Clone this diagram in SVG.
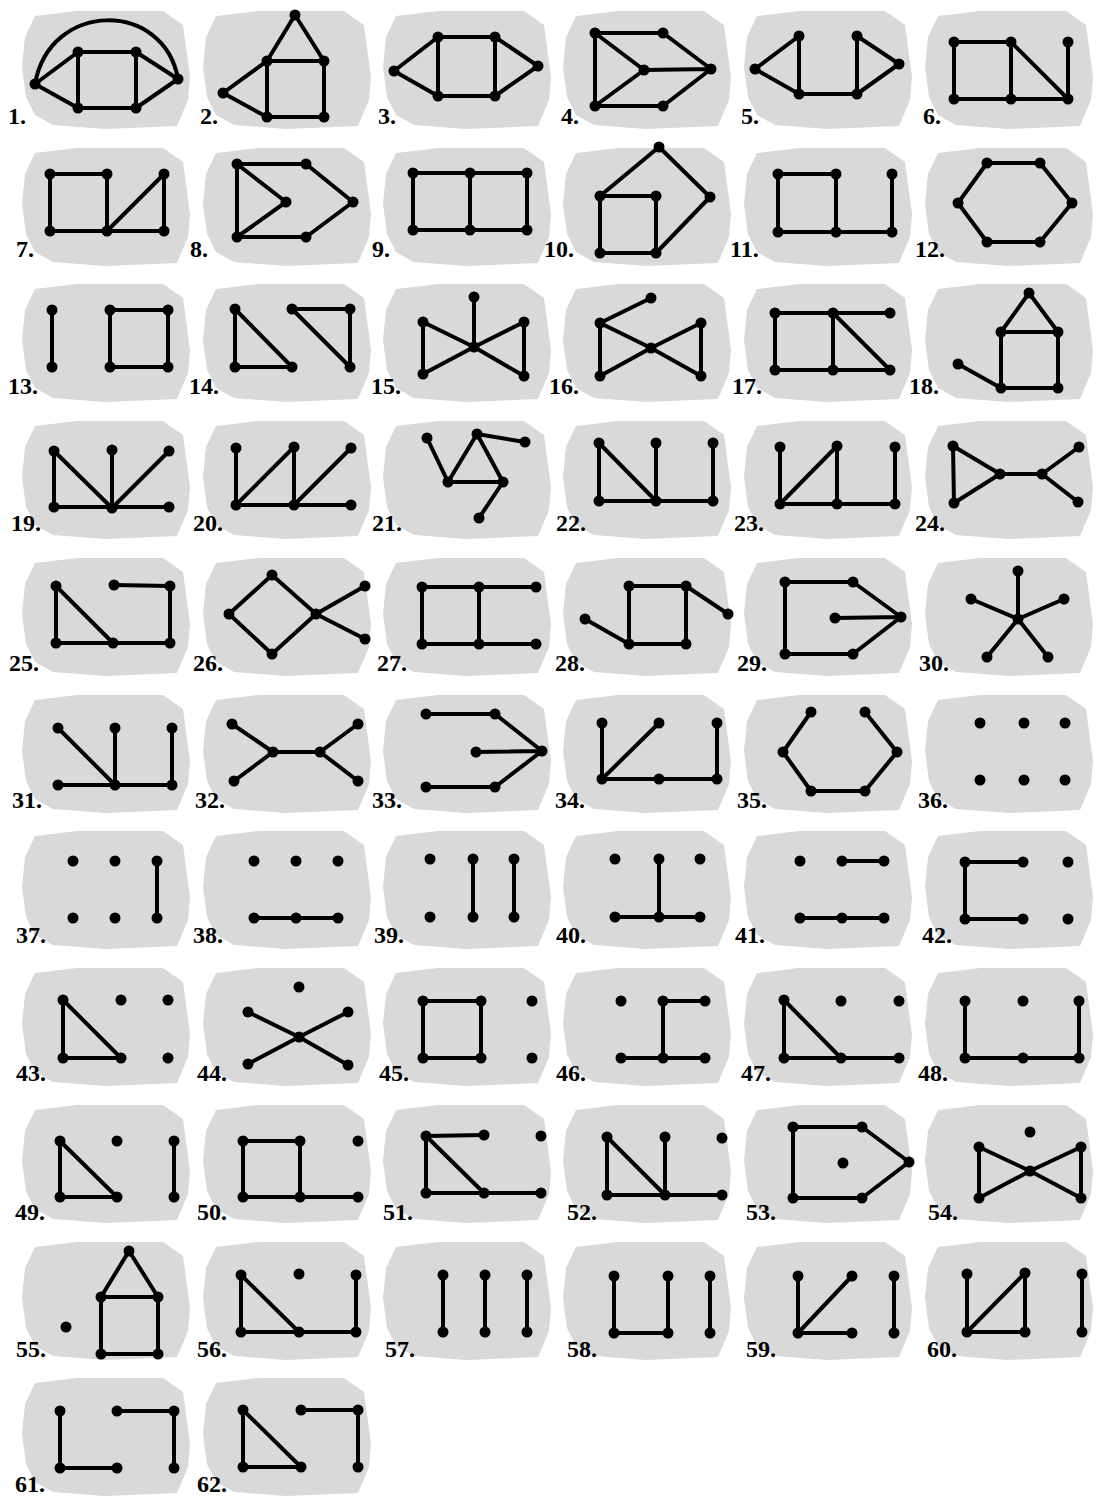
<svg xmlns="http://www.w3.org/2000/svg" xmlns:xlink="http://www.w3.org/1999/xlink" width="1102" height="1499" viewBox="0 0 1102 1499">
<style>
.blob{fill:#d9d9d9}
.e{stroke:#000;stroke-width:4;fill:none;stroke-linecap:round;stroke-linejoin:round}
.lb{font-family:"Liberation Serif",serif;font-weight:bold;font-size:24px;fill:#000}
</style>
<defs>
<path id="blob" d="M22 67 L25 37 L35 16 L77 11 L163 11 L183 25 L190 77 L188 100 L177 126 L105 129 L53 125 L35 115 L26 97 Z"/>
<circle id="n" r="5.5" fill="#000"/>
</defs>
<rect width="1102" height="1499" fill="#fff"/>

<g id="fig1"><use href="#blob" class="blob" x="0" y="0"/><text class="lb" x="8" y="124">1.</text>
<g class="connectors"><path class="e" d="M35 84L78 52M35 84L78 108M78 52L136 52M78 52L78 108M136 52L136 108M78 108L136 108M136 52L178 79M136 108L178 79M35 84C50 0 164 0 178 79"/></g>
<use href="#n" x="35" y="84"/><use href="#n" x="78" y="52"/><use href="#n" x="136" y="52"/><use href="#n" x="78" y="108"/><use href="#n" x="136" y="108"/><use href="#n" x="178" y="79"/></g>

<g id="fig2"><use href="#blob" class="blob" x="181" y="0"/><text class="lb" x="200" y="124">2.</text>
<g class="connectors"><path class="e" d="M295 15L267 61M295 15L324 61M267 61L324 61M267 61L267 117M324 61L324 117M267 117L324 117M223 93L267 61M223 93L267 117"/></g>
<use href="#n" x="295" y="15"/><use href="#n" x="267" y="61"/><use href="#n" x="324" y="61"/><use href="#n" x="267" y="117"/><use href="#n" x="324" y="117"/><use href="#n" x="223" y="93"/></g>

<g id="fig3"><use href="#blob" class="blob" x="361" y="0"/><text class="lb" x="378" y="124">3.</text>
<g class="connectors"><path class="e" d="M394 71L438 37M394 71L438 96M438 37L495 37M438 37L438 96M495 37L495 96M438 96L495 96M495 37L538 66M495 96L538 66"/></g>
<use href="#n" x="394" y="71"/><use href="#n" x="438" y="37"/><use href="#n" x="495" y="37"/><use href="#n" x="438" y="96"/><use href="#n" x="495" y="96"/><use href="#n" x="538" y="66"/></g>

<g id="fig4"><use href="#blob" class="blob" x="541" y="0"/><text class="lb" x="561" y="124">4.</text>
<g class="connectors"><path class="e" d="M595 33L663 33M595 33L595 106M595 33L644 70M595 106L644 70M644 70L711 69M663 33L711 69M663 106L711 69M595 106L663 106"/></g>
<use href="#n" x="595" y="33"/><use href="#n" x="663" y="33"/><use href="#n" x="644" y="70"/><use href="#n" x="711" y="69"/><use href="#n" x="595" y="106"/><use href="#n" x="663" y="106"/></g>

<g id="fig5"><use href="#blob" class="blob" x="722" y="0"/><text class="lb" x="741" y="124">5.</text>
<g class="connectors"><path class="e" d="M755 69L799 36M755 69L799 94M799 36L799 94M799 94L857 94M857 36L857 94M857 36L899 64M857 94L899 64"/></g>
<use href="#n" x="755" y="69"/><use href="#n" x="799" y="36"/><use href="#n" x="799" y="94"/><use href="#n" x="857" y="36"/><use href="#n" x="857" y="94"/><use href="#n" x="899" y="64"/></g>

<g id="fig6"><use href="#blob" class="blob" x="903" y="0"/><text class="lb" x="923" y="124">6.</text>
<g class="connectors"><path class="e" d="M954 42L1011 42M954 42L954 99M1011 42L1011 99M954 99L1068 99M1011 42L1068 99M1068 42L1068 99"/></g>
<use href="#n" x="954" y="42"/><use href="#n" x="1011" y="42"/><use href="#n" x="1068" y="42"/><use href="#n" x="954" y="99"/><use href="#n" x="1011" y="99"/><use href="#n" x="1068" y="99"/></g>

<g id="fig7"><use href="#blob" class="blob" x="0" y="137"/><text class="lb" x="16" y="257">7.</text>
<g class="connectors"><path class="e" d="M50 174L107 174M50 174L50 231M107 174L107 231M50 231L164 231M107 231L164 174M164 174L164 231"/></g>
<use href="#n" x="50" y="174"/><use href="#n" x="107" y="174"/><use href="#n" x="50" y="231"/><use href="#n" x="107" y="231"/><use href="#n" x="164" y="231"/><use href="#n" x="164" y="174"/></g>

<g id="fig8"><use href="#blob" class="blob" x="181" y="137"/><text class="lb" x="190" y="257">8.</text>
<g class="connectors"><path class="e" d="M237 164L306 164M237 164L237 237M237 164L286 202M286 202L237 237M306 164L353 202M353 202L306 237M237 237L306 237"/></g>
<use href="#n" x="237" y="164"/><use href="#n" x="306" y="164"/><use href="#n" x="286" y="202"/><use href="#n" x="353" y="202"/><use href="#n" x="237" y="237"/><use href="#n" x="306" y="237"/></g>

<g id="fig9"><use href="#blob" class="blob" x="361" y="137"/><text class="lb" x="372" y="257">9.</text>
<g class="connectors"><path class="e" d="M413 173L527 173M413 230L527 230M413 173L413 230M470 173L470 230M527 173L527 230"/></g>
<use href="#n" x="413" y="173"/><use href="#n" x="470" y="173"/><use href="#n" x="527" y="173"/><use href="#n" x="413" y="230"/><use href="#n" x="470" y="230"/><use href="#n" x="527" y="230"/></g>

<g id="fig10"><use href="#blob" class="blob" x="541" y="137"/><text class="lb" x="544" y="257">10.</text>
<g class="connectors"><path class="e" d="M659 147L600 196M659 147L710 197M600 196L656 196M600 196L600 253M656 196L656 253M600 253L656 253M710 197L656 253"/></g>
<use href="#n" x="659" y="147"/><use href="#n" x="710" y="197"/><use href="#n" x="600" y="196"/><use href="#n" x="656" y="196"/><use href="#n" x="600" y="253"/><use href="#n" x="656" y="253"/></g>

<g id="fig11"><use href="#blob" class="blob" x="722" y="137"/><text class="lb" x="730" y="257">11.</text>
<g class="connectors"><path class="e" d="M778 174L836 174M778 174L778 232M836 174L836 232M778 232L892 232M892 174L892 232"/></g>
<use href="#n" x="778" y="174"/><use href="#n" x="836" y="174"/><use href="#n" x="892" y="174"/><use href="#n" x="778" y="232"/><use href="#n" x="836" y="232"/><use href="#n" x="892" y="232"/></g>

<g id="fig12"><use href="#blob" class="blob" x="903" y="137"/><text class="lb" x="915" y="257">12.</text>
<g class="connectors"><path class="e" d="M987 163L1040 163L1072 203L1040 242L987 242L958 203Z"/></g>
<use href="#n" x="987" y="163"/><use href="#n" x="1040" y="163"/><use href="#n" x="1072" y="203"/><use href="#n" x="1040" y="242"/><use href="#n" x="987" y="242"/><use href="#n" x="958" y="203"/></g>

<g id="fig13"><use href="#blob" class="blob" x="0" y="273"/><text class="lb" x="8" y="394">13.</text>
<g class="connectors"><path class="e" d="M52 310L52 367M110 310L168 310L168 367L110 367Z"/></g>
<use href="#n" x="52" y="310"/><use href="#n" x="52" y="367"/><use href="#n" x="110" y="310"/><use href="#n" x="168" y="310"/><use href="#n" x="110" y="367"/><use href="#n" x="168" y="367"/></g>

<g id="fig14"><use href="#blob" class="blob" x="181" y="273"/><text class="lb" x="189" y="394">14.</text>
<g class="connectors"><path class="e" d="M235 309L235 367M235 309L292 367M235 367L292 367M292 309L350 309M292 309L350 367M350 309L350 367"/></g>
<use href="#n" x="235" y="309"/><use href="#n" x="235" y="367"/><use href="#n" x="292" y="367"/><use href="#n" x="292" y="309"/><use href="#n" x="350" y="309"/><use href="#n" x="350" y="367"/></g>

<g id="fig15"><use href="#blob" class="blob" x="361" y="273"/><text class="lb" x="371" y="394">15.</text>
<g class="connectors"><path class="e" d="M474 297L474 347M423 322L474 347M524 322L474 347M423 374L474 347M524 376L474 347M423 322L423 374M524 322L524 376"/></g>
<use href="#n" x="474" y="297"/><use href="#n" x="423" y="322"/><use href="#n" x="524" y="322"/><use href="#n" x="474" y="347"/><use href="#n" x="423" y="374"/><use href="#n" x="524" y="376"/></g>

<g id="fig16"><use href="#blob" class="blob" x="541" y="273"/><text class="lb" x="549" y="394">16.</text>
<g class="connectors"><path class="e" d="M651 298L600 323M600 323L651 348M651 348L701 376M600 376L651 348M651 348L701 323M600 323L600 376M701 323L701 376"/></g>
<use href="#n" x="651" y="298"/><use href="#n" x="600" y="323"/><use href="#n" x="701" y="323"/><use href="#n" x="651" y="348"/><use href="#n" x="600" y="376"/><use href="#n" x="701" y="376"/></g>

<g id="fig17"><use href="#blob" class="blob" x="722" y="273"/><text class="lb" x="732" y="394">17.</text>
<g class="connectors"><path class="e" d="M775 313L890 313M775 313L775 370M833 313L833 370M775 370L890 370M833 313L890 370"/></g>
<use href="#n" x="775" y="313"/><use href="#n" x="833" y="313"/><use href="#n" x="890" y="313"/><use href="#n" x="775" y="370"/><use href="#n" x="833" y="370"/><use href="#n" x="890" y="370"/></g>

<g id="fig18"><use href="#blob" class="blob" x="903" y="273"/><text class="lb" x="909" y="394">18.</text>
<g class="connectors"><path class="e" d="M1029 293L1001 332M1029 293L1058 332M1001 332L1058 332M1001 332L1001 388M1058 332L1058 388M1001 388L1058 388M958 364L1001 388"/></g>
<use href="#n" x="1029" y="293"/><use href="#n" x="1001" y="332"/><use href="#n" x="1058" y="332"/><use href="#n" x="1001" y="388"/><use href="#n" x="1058" y="388"/><use href="#n" x="958" y="364"/></g>

<g id="fig19"><use href="#blob" class="blob" x="0" y="410"/><text class="lb" x="11" y="531">19.</text>
<g class="connectors"><path class="e" d="M54 451L54 507M54 451L112 508M112 450L112 508M169 451L112 508M54 507L169 507"/></g>
<use href="#n" x="54" y="451"/><use href="#n" x="112" y="450"/><use href="#n" x="169" y="451"/><use href="#n" x="54" y="507"/><use href="#n" x="112" y="508"/><use href="#n" x="169" y="507"/></g>

<g id="fig20"><use href="#blob" class="blob" x="181" y="410"/><text class="lb" x="193" y="531">20.</text>
<g class="connectors"><path class="e" d="M236 448L236 505M236 505L294 447M294 447L294 505M236 505L351 505M294 505L351 448"/></g>
<use href="#n" x="236" y="448"/><use href="#n" x="294" y="447"/><use href="#n" x="351" y="448"/><use href="#n" x="236" y="505"/><use href="#n" x="294" y="505"/><use href="#n" x="351" y="505"/></g>

<g id="fig21"><use href="#blob" class="blob" x="361" y="410"/><text class="lb" x="372" y="531">21.</text>
<g class="connectors"><path class="e" d="M427 438L448 482M477 434L525 442M477 434L448 482M477 434L503 482M448 482L503 482M503 482L479 518"/></g>
<use href="#n" x="427" y="438"/><use href="#n" x="477" y="434"/><use href="#n" x="525" y="442"/><use href="#n" x="448" y="482"/><use href="#n" x="503" y="482"/><use href="#n" x="479" y="518"/></g>

<g id="fig22"><use href="#blob" class="blob" x="541" y="410"/><text class="lb" x="556" y="531">22.</text>
<g class="connectors"><path class="e" d="M599 443L599 501M599 443L656 501M656 443L656 501M599 501L713 501M713 443L713 501"/></g>
<use href="#n" x="599" y="443"/><use href="#n" x="656" y="443"/><use href="#n" x="713" y="443"/><use href="#n" x="599" y="501"/><use href="#n" x="656" y="501"/><use href="#n" x="713" y="501"/></g>

<g id="fig23"><use href="#blob" class="blob" x="722" y="410"/><text class="lb" x="734" y="531">23.</text>
<g class="connectors"><path class="e" d="M780 447L780 504M780 504L837 446M837 446L837 504M780 504L895 504M895 447L895 504"/></g>
<use href="#n" x="780" y="447"/><use href="#n" x="837" y="446"/><use href="#n" x="895" y="447"/><use href="#n" x="780" y="504"/><use href="#n" x="837" y="504"/><use href="#n" x="895" y="504"/></g>

<g id="fig24"><use href="#blob" class="blob" x="903" y="410"/><text class="lb" x="915" y="531">24.</text>
<g class="connectors"><path class="e" d="M953 446L954 503M953 446L1000 474M954 503L1000 474M1000 474L1042 474M1042 474L1079 447M1042 474L1078 502"/></g>
<use href="#n" x="953" y="446"/><use href="#n" x="954" y="503"/><use href="#n" x="1000" y="474"/><use href="#n" x="1042" y="474"/><use href="#n" x="1079" y="447"/><use href="#n" x="1078" y="502"/></g>

<g id="fig25"><use href="#blob" class="blob" x="0" y="547"/><text class="lb" x="9" y="671">25.</text>
<g class="connectors"><path class="e" d="M56 586L56 643M56 586L113 643M56 643L170 643M170 586L170 643M114 585L170 586"/></g>
<use href="#n" x="56" y="586"/><use href="#n" x="56" y="643"/><use href="#n" x="113" y="643"/><use href="#n" x="170" y="643"/><use href="#n" x="170" y="586"/><use href="#n" x="114" y="585"/></g>

<g id="fig26"><use href="#blob" class="blob" x="181" y="547"/><text class="lb" x="193" y="671">26.</text>
<g class="connectors"><path class="e" d="M272 575L229 614L272 654L316 614L272 575M316 614L365 586M316 614L365 639"/></g>
<use href="#n" x="272" y="575"/><use href="#n" x="229" y="614"/><use href="#n" x="272" y="654"/><use href="#n" x="316" y="614"/><use href="#n" x="365" y="586"/><use href="#n" x="365" y="639"/></g>

<g id="fig27"><use href="#blob" class="blob" x="361" y="547"/><text class="lb" x="377" y="671">27.</text>
<g class="connectors"><path class="e" d="M422 587L536 587M422 587L422 644M479 587L479 644M422 644L536 644"/></g>
<use href="#n" x="422" y="587"/><use href="#n" x="479" y="587"/><use href="#n" x="536" y="587"/><use href="#n" x="422" y="644"/><use href="#n" x="479" y="644"/><use href="#n" x="536" y="644"/></g>

<g id="fig28"><use href="#blob" class="blob" x="541" y="547"/><text class="lb" x="555" y="671">28.</text>
<g class="connectors"><path class="e" d="M585 619L629 644M629 586L686 586M629 586L629 644M686 586L686 644M629 644L686 644M686 586L728 614"/></g>
<use href="#n" x="585" y="619"/><use href="#n" x="629" y="586"/><use href="#n" x="686" y="586"/><use href="#n" x="629" y="644"/><use href="#n" x="686" y="644"/><use href="#n" x="728" y="614"/></g>

<g id="fig29"><use href="#blob" class="blob" x="722" y="547"/><text class="lb" x="737" y="671">29.</text>
<g class="connectors"><path class="e" d="M785 582L853 582M785 582L785 654M853 582L901 617M835 618L901 617M901 617L853 654M785 654L853 654"/></g>
<use href="#n" x="785" y="582"/><use href="#n" x="853" y="582"/><use href="#n" x="835" y="618"/><use href="#n" x="901" y="617"/><use href="#n" x="785" y="654"/><use href="#n" x="853" y="654"/></g>

<g id="fig30"><use href="#blob" class="blob" x="903" y="547"/><text class="lb" x="919" y="671">30.</text>
<g class="connectors"><path class="e" d="M1018 571L1018 619M971 599L1018 619M1064 599L1018 619M987 657L1018 619M1048 657L1018 619"/></g>
<use href="#n" x="1018" y="571"/><use href="#n" x="971" y="599"/><use href="#n" x="1064" y="599"/><use href="#n" x="1018" y="619"/><use href="#n" x="987" y="657"/><use href="#n" x="1048" y="657"/></g>

<g id="fig31"><use href="#blob" class="blob" x="0" y="684"/><text class="lb" x="12" y="808">31.</text>
<g class="connectors"><path class="e" d="M58 728L115 785M115 728L115 785M58 785L172 785M172 728L172 785"/></g>
<use href="#n" x="58" y="728"/><use href="#n" x="115" y="728"/><use href="#n" x="172" y="728"/><use href="#n" x="58" y="785"/><use href="#n" x="115" y="785"/><use href="#n" x="172" y="785"/></g>

<g id="fig32"><use href="#blob" class="blob" x="181" y="684"/><text class="lb" x="195" y="808">32.</text>
<g class="connectors"><path class="e" d="M232 724L273 752M234 781L273 752M273 752L320 752M320 752L358 724M320 752L358 781"/></g>
<use href="#n" x="232" y="724"/><use href="#n" x="358" y="724"/><use href="#n" x="273" y="752"/><use href="#n" x="320" y="752"/><use href="#n" x="234" y="781"/><use href="#n" x="358" y="781"/></g>

<g id="fig33"><use href="#blob" class="blob" x="361" y="684"/><text class="lb" x="372" y="808">33.</text>
<g class="connectors"><path class="e" d="M426 714L495 714M495 714L542 751M476 752L542 751M542 751L495 787M426 787L495 787"/></g>
<use href="#n" x="426" y="714"/><use href="#n" x="495" y="714"/><use href="#n" x="476" y="752"/><use href="#n" x="542" y="751"/><use href="#n" x="426" y="787"/><use href="#n" x="495" y="787"/></g>

<g id="fig34"><use href="#blob" class="blob" x="541" y="684"/><text class="lb" x="555" y="808">34.</text>
<g class="connectors"><path class="e" d="M602 723L602 779M602 779L659 723M602 779L717 779M717 723L717 779"/></g>
<use href="#n" x="602" y="723"/><use href="#n" x="659" y="723"/><use href="#n" x="717" y="723"/><use href="#n" x="602" y="779"/><use href="#n" x="659" y="779"/><use href="#n" x="717" y="779"/></g>

<g id="fig35"><use href="#blob" class="blob" x="722" y="684"/><text class="lb" x="737" y="808">35.</text>
<g class="connectors"><path class="e" d="M811 712L783 752L811 791L865 791L897 752L865 712"/></g>
<use href="#n" x="811" y="712"/><use href="#n" x="865" y="712"/><use href="#n" x="783" y="752"/><use href="#n" x="897" y="752"/><use href="#n" x="811" y="791"/><use href="#n" x="865" y="791"/></g>

<g id="fig36"><use href="#blob" class="blob" x="903" y="684"/><text class="lb" x="918" y="808">36.</text>
<use href="#n" x="980" y="723"/><use href="#n" x="1024" y="723"/><use href="#n" x="1065" y="723"/><use href="#n" x="980" y="780"/><use href="#n" x="1024" y="780"/><use href="#n" x="1065" y="780"/></g>

<g id="fig37"><use href="#blob" class="blob" x="0" y="820"/><text class="lb" x="16" y="943">37.</text>
<g class="connectors"><path class="e" d="M157 861L157 918"/></g>
<use href="#n" x="73" y="861"/><use href="#n" x="115" y="861"/><use href="#n" x="157" y="861"/><use href="#n" x="73" y="918"/><use href="#n" x="115" y="918"/><use href="#n" x="157" y="918"/></g>

<g id="fig38"><use href="#blob" class="blob" x="181" y="820"/><text class="lb" x="193" y="943">38.</text>
<g class="connectors"><path class="e" d="M254 918L338 918"/></g>
<use href="#n" x="254" y="861"/><use href="#n" x="296" y="861"/><use href="#n" x="338" y="861"/><use href="#n" x="254" y="918"/><use href="#n" x="296" y="918"/><use href="#n" x="338" y="918"/></g>

<g id="fig39"><use href="#blob" class="blob" x="361" y="820"/><text class="lb" x="374" y="943">39.</text>
<g class="connectors"><path class="e" d="M473 859L473 917M514 859L514 917"/></g>
<use href="#n" x="430" y="859"/><use href="#n" x="473" y="859"/><use href="#n" x="514" y="859"/><use href="#n" x="430" y="917"/><use href="#n" x="473" y="917"/><use href="#n" x="514" y="917"/></g>

<g id="fig40"><use href="#blob" class="blob" x="541" y="820"/><text class="lb" x="556" y="943">40.</text>
<g class="connectors"><path class="e" d="M659 859L659 917M615 917L700 917"/></g>
<use href="#n" x="615" y="859"/><use href="#n" x="659" y="859"/><use href="#n" x="700" y="859"/><use href="#n" x="615" y="917"/><use href="#n" x="659" y="917"/><use href="#n" x="700" y="917"/></g>

<g id="fig41"><use href="#blob" class="blob" x="722" y="820"/><text class="lb" x="735" y="943">41.</text>
<g class="connectors"><path class="e" d="M842 861L884 861M800 918L884 918"/></g>
<use href="#n" x="800" y="861"/><use href="#n" x="842" y="861"/><use href="#n" x="884" y="861"/><use href="#n" x="800" y="918"/><use href="#n" x="842" y="918"/><use href="#n" x="884" y="918"/></g>

<g id="fig42"><use href="#blob" class="blob" x="903" y="820"/><text class="lb" x="922" y="943">42.</text>
<g class="connectors"><path class="e" d="M1023 862L965 862L965 919L1023 919"/></g>
<use href="#n" x="965" y="862"/><use href="#n" x="1023" y="862"/><use href="#n" x="1068" y="862"/><use href="#n" x="965" y="919"/><use href="#n" x="1023" y="919"/><use href="#n" x="1068" y="919"/></g>

<g id="fig43"><use href="#blob" class="blob" x="0" y="957"/><text class="lb" x="16" y="1081">43.</text>
<g class="connectors"><path class="e" d="M63 1000L63 1058L121 1058Z"/></g>
<use href="#n" x="63" y="1000"/><use href="#n" x="121" y="1000"/><use href="#n" x="168" y="1000"/><use href="#n" x="63" y="1058"/><use href="#n" x="121" y="1058"/><use href="#n" x="168" y="1058"/></g>

<g id="fig44"><use href="#blob" class="blob" x="181" y="957"/><text class="lb" x="197" y="1081">44.</text>
<g class="connectors"><path class="e" d="M248 1012L299 1037L348 1065M248 1064L299 1037L348 1012"/></g>
<use href="#n" x="299" y="987"/><use href="#n" x="248" y="1012"/><use href="#n" x="348" y="1012"/><use href="#n" x="299" y="1037"/><use href="#n" x="248" y="1064"/><use href="#n" x="348" y="1065"/></g>

<g id="fig45"><use href="#blob" class="blob" x="361" y="957"/><text class="lb" x="379" y="1081">45.</text>
<g class="connectors"><path class="e" d="M423 1001L481 1001L481 1058L423 1058Z"/></g>
<use href="#n" x="423" y="1001"/><use href="#n" x="481" y="1001"/><use href="#n" x="423" y="1058"/><use href="#n" x="481" y="1058"/><use href="#n" x="532" y="1001"/><use href="#n" x="532" y="1058"/></g>

<g id="fig46"><use href="#blob" class="blob" x="541" y="957"/><text class="lb" x="556" y="1081">46.</text>
<g class="connectors"><path class="e" d="M705 1001L663 1001L663 1058M621 1058L705 1058"/></g>
<use href="#n" x="621" y="1001"/><use href="#n" x="663" y="1001"/><use href="#n" x="705" y="1001"/><use href="#n" x="621" y="1058"/><use href="#n" x="663" y="1058"/><use href="#n" x="705" y="1058"/></g>

<g id="fig47"><use href="#blob" class="blob" x="722" y="957"/><text class="lb" x="741" y="1081">47.</text>
<g class="connectors"><path class="e" d="M784 1000L784 1058M784 1000L841 1058M784 1058L899 1058"/></g>
<use href="#n" x="784" y="1000"/><use href="#n" x="841" y="1001"/><use href="#n" x="899" y="1001"/><use href="#n" x="784" y="1058"/><use href="#n" x="841" y="1058"/><use href="#n" x="899" y="1058"/></g>

<g id="fig48"><use href="#blob" class="blob" x="903" y="957"/><text class="lb" x="918" y="1081">48.</text>
<g class="connectors"><path class="e" d="M965 1001L965 1058L1079 1058L1079 1001"/></g>
<use href="#n" x="965" y="1001"/><use href="#n" x="1023" y="1001"/><use href="#n" x="1079" y="1001"/><use href="#n" x="965" y="1058"/><use href="#n" x="1023" y="1058"/><use href="#n" x="1079" y="1058"/></g>

<g id="fig49"><use href="#blob" class="blob" x="0" y="1094"/><text class="lb" x="15" y="1220">49.</text>
<g class="connectors"><path class="e" d="M60 1141L60 1197L117 1197Z M174 1141L174 1197"/></g>
<use href="#n" x="60" y="1141"/><use href="#n" x="117" y="1141"/><use href="#n" x="174" y="1141"/><use href="#n" x="60" y="1197"/><use href="#n" x="117" y="1197"/><use href="#n" x="174" y="1197"/></g>

<g id="fig50"><use href="#blob" class="blob" x="181" y="1094"/><text class="lb" x="197" y="1220">50.</text>
<g class="connectors"><path class="e" d="M243 1141L300 1141L300 1197L243 1197Z M300 1197L358 1197"/></g>
<use href="#n" x="243" y="1141"/><use href="#n" x="300" y="1141"/><use href="#n" x="358" y="1141"/><use href="#n" x="243" y="1197"/><use href="#n" x="300" y="1197"/><use href="#n" x="358" y="1197"/></g>

<g id="fig51"><use href="#blob" class="blob" x="361" y="1094"/><text class="lb" x="383" y="1220">51.</text>
<g class="connectors"><path class="e" d="M426 1136L484 1135M426 1136L426 1193M426 1136L484 1193M426 1193L541 1193"/></g>
<use href="#n" x="426" y="1136"/><use href="#n" x="484" y="1135"/><use href="#n" x="541" y="1136"/><use href="#n" x="426" y="1193"/><use href="#n" x="484" y="1193"/><use href="#n" x="541" y="1193"/></g>

<g id="fig52"><use href="#blob" class="blob" x="541" y="1094"/><text class="lb" x="567" y="1220">52.</text>
<g class="connectors"><path class="e" d="M607 1137L607 1195M607 1137L665 1195M665 1137L665 1195M607 1195L722 1195"/></g>
<use href="#n" x="607" y="1137"/><use href="#n" x="665" y="1137"/><use href="#n" x="722" y="1138"/><use href="#n" x="607" y="1195"/><use href="#n" x="665" y="1195"/><use href="#n" x="722" y="1195"/></g>

<g id="fig53"><use href="#blob" class="blob" x="722" y="1094"/><text class="lb" x="746" y="1220">53.</text>
<g class="connectors"><path class="e" d="M862 1127L793 1127L793 1198L862 1198L909 1162L862 1127"/></g>
<use href="#n" x="793" y="1127"/><use href="#n" x="862" y="1127"/><use href="#n" x="843" y="1163"/><use href="#n" x="909" y="1162"/><use href="#n" x="793" y="1198"/><use href="#n" x="862" y="1198"/></g>

<g id="fig54"><use href="#blob" class="blob" x="903" y="1094"/><text class="lb" x="928" y="1220">54.</text>
<g class="connectors"><path class="e" d="M979 1147L979 1198M979 1147L1030 1171L1081 1198M979 1198L1030 1171L1081 1147M1081 1147L1081 1198"/></g>
<use href="#n" x="1030" y="1132"/><use href="#n" x="979" y="1147"/><use href="#n" x="1081" y="1147"/><use href="#n" x="1030" y="1171"/><use href="#n" x="979" y="1198"/><use href="#n" x="1081" y="1198"/></g>

<g id="fig55"><use href="#blob" class="blob" x="0" y="1231"/><text class="lb" x="16" y="1357">55.</text>
<g class="connectors"><path class="e" d="M129 1251L101 1297M129 1251L158 1297M101 1297L158 1297M101 1297L101 1354L158 1354L158 1297"/></g>
<use href="#n" x="129" y="1251"/><use href="#n" x="101" y="1297"/><use href="#n" x="158" y="1297"/><use href="#n" x="101" y="1354"/><use href="#n" x="158" y="1354"/><use href="#n" x="66" y="1327"/></g>

<g id="fig56"><use href="#blob" class="blob" x="181" y="1231"/><text class="lb" x="197" y="1357">56.</text>
<g class="connectors"><path class="e" d="M241 1275L241 1332M241 1275L299 1332M241 1332L356 1332M356 1275L356 1332"/></g>
<use href="#n" x="241" y="1275"/><use href="#n" x="299" y="1274"/><use href="#n" x="356" y="1275"/><use href="#n" x="241" y="1332"/><use href="#n" x="299" y="1332"/><use href="#n" x="356" y="1332"/></g>

<g id="fig57"><use href="#blob" class="blob" x="361" y="1231"/><text class="lb" x="385" y="1357">57.</text>
<g class="connectors"><path class="e" d="M443 1275L443 1332M485 1275L485 1332M527 1275L527 1332"/></g>
<use href="#n" x="443" y="1275"/><use href="#n" x="485" y="1275"/><use href="#n" x="527" y="1275"/><use href="#n" x="443" y="1332"/><use href="#n" x="485" y="1332"/><use href="#n" x="527" y="1332"/></g>

<g id="fig58"><use href="#blob" class="blob" x="541" y="1231"/><text class="lb" x="567" y="1357">58.</text>
<g class="connectors"><path class="e" d="M614 1276L614 1333L668 1333L668 1276M710 1276L710 1333"/></g>
<use href="#n" x="614" y="1276"/><use href="#n" x="668" y="1276"/><use href="#n" x="710" y="1276"/><use href="#n" x="614" y="1333"/><use href="#n" x="668" y="1333"/><use href="#n" x="710" y="1333"/></g>

<g id="fig59"><use href="#blob" class="blob" x="722" y="1231"/><text class="lb" x="746" y="1357">59.</text>
<g class="connectors"><path class="e" d="M798 1276L798 1333M798 1333L852 1276M798 1333L852 1333M894 1276L894 1333"/></g>
<use href="#n" x="798" y="1276"/><use href="#n" x="852" y="1276"/><use href="#n" x="894" y="1276"/><use href="#n" x="798" y="1333"/><use href="#n" x="852" y="1333"/><use href="#n" x="894" y="1333"/></g>

<g id="fig60"><use href="#blob" class="blob" x="903" y="1231"/><text class="lb" x="927" y="1357">60.</text>
<g class="connectors"><path class="e" d="M967 1274L967 1332M967 1332L1025 1273M1025 1273L1025 1332M967 1332L1025 1332M1082 1274L1082 1332"/></g>
<use href="#n" x="967" y="1274"/><use href="#n" x="1025" y="1273"/><use href="#n" x="1082" y="1274"/><use href="#n" x="967" y="1332"/><use href="#n" x="1025" y="1332"/><use href="#n" x="1082" y="1332"/></g>

<g id="fig61"><use href="#blob" class="blob" x="0" y="1367"/><text class="lb" x="15" y="1492">61.</text>
<g class="connectors"><path class="e" d="M60 1411L60 1468L117 1468M117 1411L174 1411L174 1468"/></g>
<use href="#n" x="60" y="1411"/><use href="#n" x="117" y="1411"/><use href="#n" x="174" y="1411"/><use href="#n" x="60" y="1468"/><use href="#n" x="117" y="1468"/><use href="#n" x="174" y="1468"/></g>

<g id="fig62"><use href="#blob" class="blob" x="181" y="1367"/><text class="lb" x="197" y="1492">62.</text>
<g class="connectors"><path class="e" d="M243 1410L243 1467L301 1467Z M301 1410L358 1410L358 1467"/></g>
<use href="#n" x="243" y="1410"/><use href="#n" x="301" y="1410"/><use href="#n" x="358" y="1410"/><use href="#n" x="243" y="1467"/><use href="#n" x="301" y="1467"/><use href="#n" x="358" y="1467"/></g>
</svg>
